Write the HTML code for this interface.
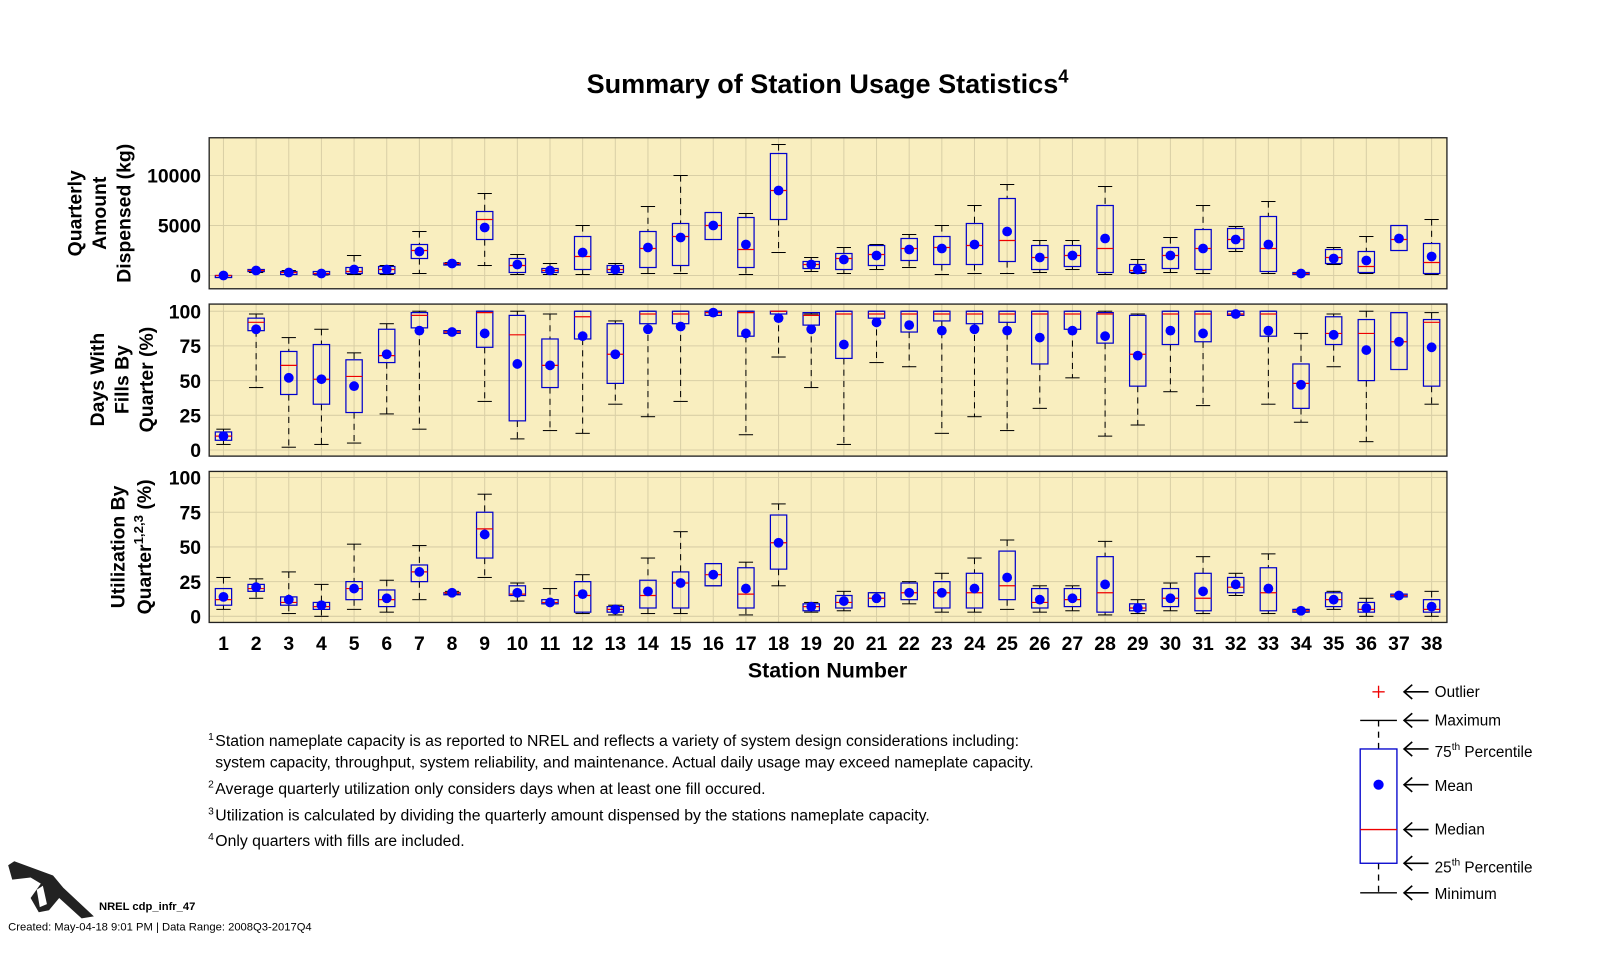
<!DOCTYPE html>
<html><head><meta charset="utf-8"><style>
html,body{margin:0;padding:0;background:#fff;}
svg{display:block;font-family:"Liberation Sans",Arial,sans-serif;}
</style></head><body>
<svg id="s" width="1600" height="960" viewBox="0 0 1600 960" xmlns="http://www.w3.org/2000/svg">
<g transform="scale(1.0204)">
<text x="811" y="91" font-size="26.5" font-weight="bold" text-anchor="middle">Summary of Station Usage Statistics<tspan font-size="18" dy="-10">4</tspan></text>
<g id="plots"></g>
<g font-weight="bold" font-size="19" text-anchor="middle">
<text transform="translate(80,209) rotate(-90)">Quarterly</text>
<text transform="translate(104,209) rotate(-90)">Amount</text>
<text transform="translate(128,209) rotate(-90)">Dispensed (kg)</text>
<text transform="translate(102,372) rotate(-90)">Days With</text>
<text transform="translate(126,372) rotate(-90)">Fills By</text>
<text transform="translate(150,372) rotate(-90)">Quarter (%)</text>
<text transform="translate(122,536) rotate(-90)">Utilization By</text>
<text transform="translate(148,536) rotate(-90)">Quarter<tspan font-size="13" dy="-8">1,2,3</tspan><tspan dy="8"> (%)</tspan></text>
<text x="811" y="664" font-size="21">Station Number</text>
</g>
<g font-size="15.5">
<text x="204" y="725" font-size="10">1</text>
<text x="211" y="731">Station nameplate capacity is as reported to NREL and reflects a variety of system design considerations including:</text>
<text x="211" y="752">system capacity, throughput, system reliability, and maintenance.  Actual daily usage may exceed nameplate capacity.</text>
<text x="204" y="772" font-size="10">2</text>
<text x="211" y="778">Average quarterly utilization only considers days when at least one fill occured.</text>
<text x="204" y="798" font-size="10">3</text>
<text x="211" y="804">Utilization is calculated by dividing the quarterly amount dispensed by the stations nameplate capacity.</text>
<text x="204" y="823" font-size="10">4</text>
<text x="211" y="829">Only quarters with fills are included.</text>
</g>
<g id="legend" stroke-width="1.3">
<line x1="1345" y1="678" x2="1357" y2="678" stroke="#e00"/><line x1="1351" y1="672" x2="1351" y2="684" stroke="#e00"/>
<line x1="1333" y1="706" x2="1369" y2="706" stroke="#000"/>
<line x1="1333" y1="875" x2="1369" y2="875" stroke="#000"/>
<line x1="1351" y1="706" x2="1351" y2="734" stroke="#000" stroke-dasharray="6,5"/>
<line x1="1351" y1="846" x2="1351" y2="875" stroke="#000" stroke-dasharray="6,5"/>
<rect x="1333" y="734" width="36" height="112" fill="none" stroke="#00c"/>
<line x1="1333" y1="813" x2="1369" y2="813" stroke="#e00"/>
<circle cx="1351" cy="769" r="5" fill="#00f"/>
</g>
<g id="arrows" fill="none" stroke="#000" stroke-width="1.6"></g>
<g font-size="15">
<text x="1406" y="683">Outlier</text>
<text x="1406" y="711">Maximum</text>
<text x="1406" y="742">75<tspan font-size="10" dy="-7">th</tspan><tspan dy="7"> Percentile</tspan></text>
<text x="1406" y="775">Mean</text>
<text x="1406" y="818">Median</text>
<text x="1406" y="855">25<tspan font-size="10" dy="-7">th</tspan><tspan dy="7"> Percentile</tspan></text>
<text x="1406" y="881">Minimum</text>
</g>
<g>
<polygon points="8,848 14,844 52,858 62,870 92,898 80,900 58,880 48,892 38,894 30,880 40,866 30,860 12,862" fill="#222"/>
<polygon points="36,872 42,868 46,886 39,889" fill="#fff"/>
</g>
<text x="97" y="892" font-size="11" font-weight="bold">NREL cdp_infr_47</text>
<text x="8" y="912" font-size="11">Created: May-04-18  9:01 PM | Data Range: 2008Q3-2017Q4</text>
</g>
</svg>
<script>
var NS="http://www.w3.org/2000/svg";
function el(p,t,a,txt){var e=document.createElementNS(NS,t);for(var k in a)e.setAttribute(k,a[k]);if(txt!==undefined)e.textContent=txt;p.appendChild(e);return e;}
var P1=[[0,0,0,0,0,0],[.3,.4,.5,.6,.6,.5],[.1,.1,.3,.4,.5,.3],[.05,.1,.2,.4,.4,.2],[.1,.2,.4,.8,2.0,.6],[.1,.2,.6,.9,1.0,.6],[.2,1.7,2.5,3.1,4.4,2.4],[1.1,1.15,1.2,1.25,1.3,1.2],[1.0,3.6,5.6,6.4,8.2,4.8],[.1,.3,1.0,1.7,2.1,1.1],[.1,.3,.5,.7,1.2,.5],[.1,.6,1.9,3.9,5.0,2.3],[.1,.3,.6,1.0,1.2,.6],[.2,.8,2.7,4.4,6.9,2.8],[.2,1.0,3.9,5.2,10,3.8],[3.6,3.6,5.0,6.3,6.3,5.0],[.1,.8,2.6,5.8,6.2,3.1],[2.3,5.6,8.5,12.2,13.1,8.5],[.4,.7,1.1,1.4,1.8,1.1],[.2,.6,1.7,2.2,2.8,1.6],[.6,1.0,2.1,3.0,3.1,2.0],[.8,1.5,2.7,3.7,4.1,2.6],[.1,1.1,2.8,3.9,5.0,2.7],[.2,1.1,3.0,5.2,7.0,3.1],[.2,1.4,3.5,7.7,9.1,4.4],[.3,.6,1.8,3.0,3.5,1.8],[.6,.9,2.0,3.0,3.5,2.0],[.1,.3,2.7,7.0,8.9,3.7],[.2,.3,.5,1.1,1.6,.6],[.3,.7,2.0,2.8,3.8,2.0],[.2,.6,2.7,4.6,7.0,2.7],[2.4,2.7,3.6,4.7,4.9,3.6],[.2,.4,2.7,5.9,7.4,3.1],[.1,.1,.2,.3,.3,.2],[1.1,1.2,1.8,2.6,2.8,1.7],[.2,.3,.9,2.4,3.9,1.5],[2.5,2.5,3.6,5.0,5.0,3.7],[.1,.2,1.3,3.2,5.6,1.9]];
var P2=[[4,7,10,13,15,10],[45,86,92,95,98,87],[2,40,61,71,81,52],[4,33,51,76,87,51],[5,27,53,65,70,46],[26,63,68,87,91,69],[15,88,97,99,100,86],[84,84,85,86,86,85],[35,74,99,100,100,84],[8,21,83,97,100,62],[14,45,61,80,98,61],[12,80,96,100,100,82],[33,48,69,91,93,69],[24,91,98,100,100,87],[35,91,98,100,100,89],[97,97,99,100,100,99],[11,82,99,100,100,84],[67,98,100,100,100,95],[45,90,97,99,98,87],[4,66,98,100,100,76],[63,95,98,100,100,92],[60,85,98,100,100,90],[12,93,98,100,100,86],[24,91,98,100,100,87],[14,92,98,100,100,86],[30,62,98,100,100,81],[52,87,98,100,100,86],[10,77,98,99,100,82],[18,46,69,97,98,68],[42,76,98,100,100,86],[32,78,98,100,100,84],[97,97,98,100,100,98],[33,82,98,100,100,86],[20,30,48,62,84,47],[60,76,84,96,98,83],[6,50,84,94,100,72],[58,58,78,99,99,78],[33,46,92,94,99,74]];
var P3=[[5,8,12,20,28,14],[13,18,20,23,27,21],[2,8,10,14,32,12],[0,5,7,10,23,8],[5,12,20,25,52,20],[3,7,12,19,26,13],[12,25,32,37,51,32],[16,16,17,17,18,17],[28,42,63,75,88,59],[11,15,16,22,24,17],[9,9,10,12,20,10],[2,3,15,25,30,16],[1,3,5,7,8,5],[2,6,15,26,42,18],[2,6,24,32,61,24],[22,22,30,38,38,30],[1,6,16,35,39,20],[22,34,53,73,81,53],[3,4,7,9,10,7],[4,6,10,15,18,11],[7,7,13,17,17,13],[9,12,17,24,25,17],[3,6,17,25,31,17],[3,6,17,31,42,20],[5,12,22,47,55,28],[3,6,10,20,22,12],[4,7,12,20,22,13],[1,3,17,43,54,23],[2,4,6,9,12,6],[4,7,13,20,24,13],[2,4,13,31,43,18],[15,17,21,28,31,23],[2,4,17,35,45,20],[3,3,4,5,5,4],[5,7,12,17,18,12],[0,3,5,10,13,6],[14,14,15,16,16,15],[0,3,5,12,18,7]];
var g=document.getElementById("plots");
var X0=205,X1=1418;
function sx(i){return 219+i*32.0;}
var panels=[
 {top:135,bot:283,y0:270,k:9.8,data:P1,ticks:[[0,"0"],[5,"5000"],[10,"10000"]]},
 {top:298,bot:447,y0:441,k:1.36,data:P2,ticks:[[0,"0"],[25,"25"],[50,"50"],[75,"75"],[100,"100"]]},
 {top:462,bot:610,y0:604,k:1.36,data:P3,ticks:[[0,"0"],[25,"25"],[50,"50"],[75,"75"],[100,"100"]]}];
panels.forEach(function(p){
 el(g,"rect",{x:X0,y:p.top,width:X1-X0,height:p.bot-p.top,fill:"#f9eebf"});
 for(var i=0;i<38;i++)el(g,"line",{x1:sx(i),y1:p.top,x2:sx(i),y2:p.bot,stroke:"#d9cfa6","stroke-width":1});
 p.ticks.forEach(function(t){var y=p.y0-t[0]*p.k;
  el(g,"line",{x1:X0,y1:y,x2:X1,y2:y,stroke:"#d9cfa6","stroke-width":1});
  el(g,"text",{x:197,y:y+7,"font-size":19,"font-weight":"bold","text-anchor":"end"},t[1]);});
 el(g,"rect",{x:X0,y:p.top,width:X1-X0,height:p.bot-p.top,fill:"none",stroke:"#222","stroke-width":1.3});
 p.data.forEach(function(d,i){
  var x=sx(i),Y=function(v){return p.y0-v*p.k;};
  el(g,"line",{x1:x,y1:Y(d[4]),x2:x,y2:Y(d[3]),stroke:"#000","stroke-dasharray":"6,5"});
  el(g,"line",{x1:x,y1:Y(d[1]),x2:x,y2:Y(d[0]),stroke:"#000","stroke-dasharray":"6,5"});
  el(g,"line",{x1:x-7,y1:Y(d[4]),x2:x+7,y2:Y(d[4]),stroke:"#000"});
  el(g,"line",{x1:x-7,y1:Y(d[0]),x2:x+7,y2:Y(d[0]),stroke:"#000"});
  var h=Math.max(Y(d[1])-Y(d[3]),2);
  el(g,"rect",{x:x-8,y:Y(d[3]),width:16,height:h,fill:"none",stroke:"#0000cc","stroke-width":1.2});
  el(g,"line",{x1:x-8,y1:Y(d[2]),x2:x+8,y2:Y(d[2]),stroke:"#e00","stroke-width":1.2});
  el(g,"circle",{cx:x,cy:Y(d[5]),r:4.8,fill:"#00f"});
 });
});
for(var i=0;i<38;i++)el(g,"text",{x:sx(i),y:637,"font-size":19,"font-weight":"bold","text-anchor":"middle"},String(i+1));
var a=document.getElementById("arrows");
[678,706,734,769,813,846,875].forEach(function(y){
 el(a,"line",{x1:1376,y1:y,x2:1400,y2:y});
 el(a,"polyline",{points:"1384,"+(y-7)+" 1376,"+y+" 1384,"+(y+7)});
});
</script>
</body></html>
